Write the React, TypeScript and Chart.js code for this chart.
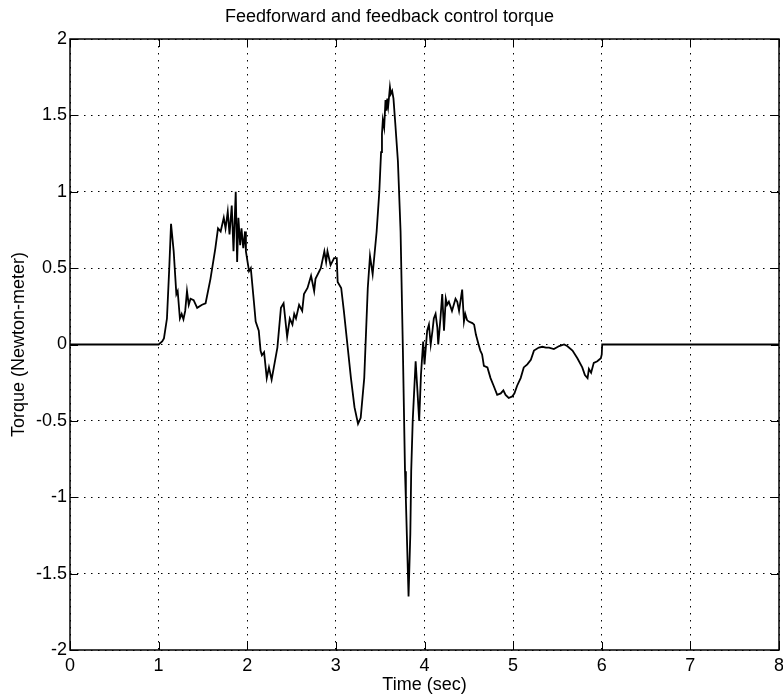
import React, { useEffect, useRef } from "react";
import { Chart, registerables } from "chart.js";

Chart.register(...registerables);

const titleText = "Feedforward and feedback control torque";
const xLabel = "Time (sec)";
const yLabel = "Torque (Newton-meter)";

const times = [
  0, 1.0, 1.04, 1.06, 1.094, 1.12, 1.14, 1.17, 1.2, 1.215, 1.24, 1.26, 1.28, 1.3, 1.32, 1.34, 1.36, 1.395,
  1.435, 1.49, 1.53, 1.585, 1.64, 1.67, 1.7, 1.735, 1.755, 1.78, 1.8, 1.825, 1.845, 1.87, 1.886, 1.9, 1.92,
  1.935, 1.955, 1.975, 1.985, 2.02, 2.04, 2.075, 2.095, 2.13, 2.15, 2.165, 2.19, 2.22, 2.245, 2.275, 2.3,
  2.34, 2.38, 2.41, 2.45, 2.48, 2.51, 2.53, 2.55, 2.585, 2.62, 2.64, 2.68, 2.72, 2.755, 2.77, 2.83, 2.87,
  2.89, 2.905, 2.94, 2.98, 3.01, 3.02, 3.06, 3.09, 3.13, 3.17, 3.21, 3.25, 3.28, 3.32, 3.36, 3.385, 3.415,
  3.46, 3.49, 3.51, 3.52, 3.53, 3.545, 3.56, 3.57, 3.58, 3.59, 3.61, 3.62, 3.635, 3.65, 3.67, 3.7, 3.73,
  3.755, 3.78, 3.79, 3.82, 3.84, 3.85, 3.867, 3.9, 3.92, 3.94, 3.96, 3.985, 4.0, 4.03, 4.05, 4.07, 4.09,
  4.105, 4.125, 4.145, 4.155, 4.18, 4.2, 4.22, 4.24, 4.255, 4.275, 4.31, 4.35, 4.37, 4.39, 4.41, 4.425,
  4.445, 4.46, 4.48, 4.5, 4.54, 4.56, 4.58, 4.61, 4.63, 4.65, 4.67, 4.71, 4.745, 4.78, 4.82, 4.86, 4.89,
  4.915, 4.95, 4.99, 5.015, 5.045, 5.085, 5.12, 5.16, 5.2, 5.235, 5.29, 5.33, 5.37, 5.405, 5.46, 5.52,
  5.575, 5.61, 5.67, 5.725, 5.78, 5.81, 5.84, 5.855, 5.88, 5.91, 5.95, 5.99, 6.0, 6.005, 8,
];

const torque = [
  0, 0, 0.02, 0.04, 0.17, 0.5, 0.79, 0.61, 0.33, 0.35, 0.17, 0.2, 0.165, 0.22, 0.35, 0.26, 0.3, 0.29,
  0.24, 0.26, 0.27, 0.43, 0.63, 0.76, 0.74, 0.83, 0.76, 0.87, 0.72, 0.91, 0.61, 1.0, 0.54, 0.83, 0.65,
  0.76, 0.63, 0.74, 0.61, 0.48, 0.5, 0.28, 0.15, 0.09, -0.04, -0.07, -0.05, -0.22, -0.15, -0.23, -0.15,
  -0.02, 0.24, 0.27, 0.05, 0.17, 0.13, 0.2, 0.17, 0.26, 0.22, 0.33, 0.37, 0.45, 0.35, 0.43, 0.5, 0.61,
  0.54, 0.61, 0.52, 0.565, 0.565, 0.41, 0.37, 0.22, 0.0, -0.22, -0.41, -0.52, -0.48, -0.22, 0.37, 0.58, 0.46,
  0.74, 1.0, 1.26, 1.38, 1.47, 1.42, 1.6, 1.53, 1.61, 1.56, 1.685, 1.64, 1.66, 1.61, 1.45, 1.2, 0.74,
  0.0, -0.83, -1.02, -1.65, -1.24, -0.83, -0.5, -0.11, -0.3, -0.5, -0.2, 0.02, -0.13, 0.09, 0.13, 0.0, 0.09,
  0.17, 0.2, 0.11, 0.0, 0.17, 0.33, 0.09, 0.3, 0.26, 0.28, 0.22, 0.3, 0.28, 0.22, 0.3, 0.36,
  0.15, 0.2, 0.16, 0.15, 0.14, 0.13, 0.065, 0.0, -0.04, -0.065, -0.14, -0.15, -0.22, -0.27, -0.33, -0.32, -0.3,
  -0.33, -0.35, -0.34, -0.32, -0.27, -0.22, -0.15, -0.13, -0.1, -0.04, -0.02, -0.015, -0.02, -0.02, -0.03, -0.01,
  0.0, -0.01, -0.04, -0.09, -0.15, -0.2, -0.22, -0.16, -0.185, -0.12, -0.11, -0.09, -0.065, 0, 0,
];

const FONT = '"Liberation Sans", Arial, Helvetica, sans-serif';

const framePlugin = {
  id: "matlabFrame",
  afterDraw(chart: any) {
    const { ctx, chartArea } = chart;
    const { left, right, top, bottom } = chartArea;
    const xs = chart.scales.x;
    const ys = chart.scales.y;
    const tl = 8;
    ctx.save();
    ctx.strokeStyle = "#000";
    ctx.lineWidth = 1;
    ctx.beginPath();
    xs.ticks.forEach((t: any) => {
      const px = Math.round(xs.getPixelForValue(t.value)) + 0.5;
      ctx.moveTo(px, bottom);
      ctx.lineTo(px, bottom - tl);
      ctx.moveTo(px, top);
      ctx.lineTo(px, top + tl);
    });
    ys.ticks.forEach((t: any) => {
      const py = Math.round(ys.getPixelForValue(t.value)) + 0.5;
      ctx.moveTo(left, py);
      ctx.lineTo(left + tl, py);
      ctx.moveTo(right, py);
      ctx.lineTo(right - tl, py);
    });
    ctx.stroke();
    ctx.lineWidth = 1.5;
    ctx.strokeRect(left, top, right - left, bottom - top);
    ctx.restore();
  },
};

export default function App() {
  const ref = useRef<HTMLCanvasElement | null>(null);

  useEffect(() => {
    if (!ref.current) return;
    const points = times.map((t, i) => ({ x: t, y: torque[i] }));
    const chart = new Chart(ref.current, {
      type: "line",
      data: {
        datasets: [
          {
            data: points,
            borderColor: "#000",
            borderWidth: 1.8,
            pointRadius: 0,
            tension: 0,
            fill: false,
          },
        ],
      },
      options: {
        animation: false,
        responsive: false,
        layout: { padding: { left: 0, right: 4, top: 0, bottom: 0 } },
        plugins: {
          legend: { display: false },
          tooltip: { enabled: false },
          title: {
            display: true,
            text: titleText,
            color: "#000",
            font: { family: FONT, size: 18, weight: "normal" },
            padding: { top: 6, bottom: 11.4 },
          },
        },
        scales: {
          x: {
            type: "linear",
            min: 0,
            max: 8,
            ticks: {
              stepSize: 1,
              color: "#000",
              padding: 5.5,
              maxRotation: 0,
              font: { family: FONT, size: 18 },
              callback: (v: any) => String(v),
            },
            grid: {
              color: "#000",
              lineWidth: 1,
              drawTicks: false,
              borderDash: [1.5, 5.5],
            } as any,
            border: { display: false, dash: [1.5, 5.5] },
            title: {
              display: true,
              text: xLabel,
              color: "#000",
              font: { family: FONT, size: 18 },
              padding: { top: 0, bottom: 4 },
            },
            afterFit: (s: any) => {
              s.height = 50;
              s.paddingLeft = 0;
              s.paddingRight = 0;
            },
          },
          y: {
            type: "linear",
            min: -2,
            max: 2,
            ticks: {
              stepSize: 0.5,
              color: "#000",
              padding: 3,
              font: { family: FONT, size: 18 },
              callback: (v: any) => String(v),
            },
            grid: {
              color: "#000",
              lineWidth: 1,
              drawTicks: false,
              borderDash: [1.5, 5.5],
            } as any,
            border: { display: false, dash: [1.5, 5.5] },
            title: {
              display: true,
              text: yLabel,
              color: "#000",
              font: { family: FONT, size: 18 },
              padding: { top: 8, bottom: 0 },
            },
            afterFit: (s: any) => {
              s.width = 70;
              s.paddingTop = 0;
              s.paddingBottom = 0;
            },
          },
        },
      },
      plugins: [framePlugin],
    } as any);
    return () => chart.destroy();
  }, []);

  return (
    <div style={{ position: "absolute", left: 0, top: 0, width: 783, height: 700, background: "#fff" }}>
      <canvas ref={ref} width={783} height={700} style={{ display: "block" }} />
    </div>
  );
}
